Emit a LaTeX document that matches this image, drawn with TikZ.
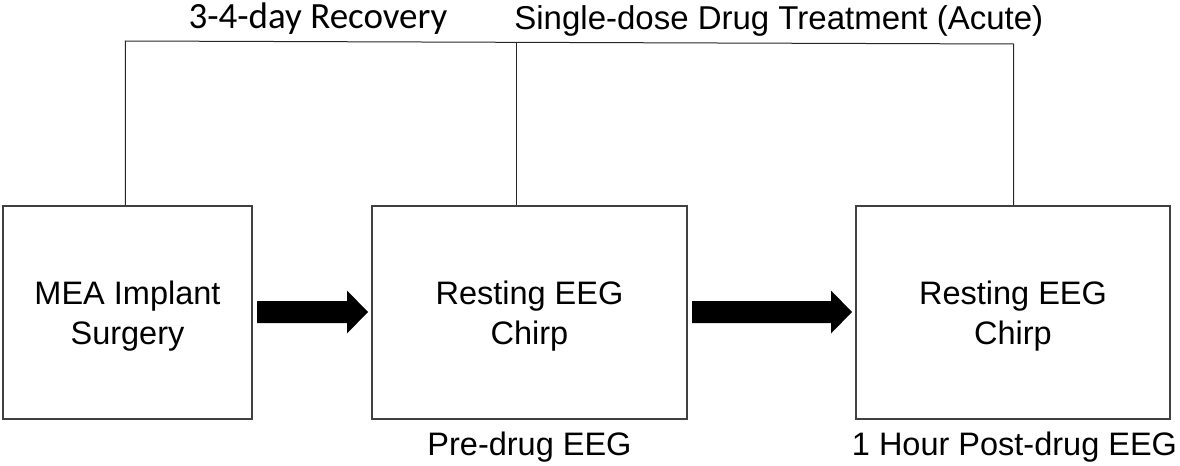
\documentclass[tikz,border=0pt]{standalone}
\usepackage{fontspec}
\setmainfont{Liberation Sans}
\newfontfamily\calfont{Carlito}
\usetikzlibrary{calc}
\definecolor{edge}{HTML}{404040}
\begin{document}
\begin{tikzpicture}[x=0.5pt,y=-0.5pt,
  stepbox/.style={draw=edge,line width=0.7pt,rectangle,minimum height=106.5pt,inner sep=0pt,
    align=center,text depth=0pt,font=\fontsize{16.25pt}{20pt}\selectfont},
  conn/.style={draw=black!85,line width=0.5pt},
  lab/.style={anchor=base,inner sep=0pt,font=\fontsize{16.25pt}{20pt}\selectfont},
  blk/.style={fill=black}]
\useasboundingbox (0,0) rectangle (1180,466);
\node[stepbox,minimum width=124.5pt] (b1) at (127.5,312.5) {MEA Implant\\Surgery};
\node[stepbox,minimum width=157.5pt] (b2) at (529.5,312.5) {Resting EEG\\Chirp};
\node[stepbox,minimum width=157pt] (b3) at (1013,312.5) {Resting EEG\\Chirp};
% block arrows
\coordinate (a1s) at (257,312);
\coordinate (a1e) at (368,312);
\coordinate (a2s) at (692,312);
\coordinate (a2e) at (852,312);
\foreach \s/\e in {a1s/a1e,a2s/a2e}{
  \fill[blk] let \p1=(\s), \p2=(\e) in
    (\x1,\y1+5.5pt) -- (\x2-10.5pt,\y1+5.5pt) -- (\x2-10.5pt,\y1+10.75pt) -- (\x2,\y2)
    -- (\x2-10.5pt,\y1-10.75pt) -- (\x2-10.5pt,\y1-5.5pt) -- (\x1,\y1-5.5pt) -- cycle;
}
% tree connectors
\coordinate (tl) at (125.3,41);
\coordinate (tm) at (516,42.3);
\coordinate (tr) at (1013.7,44);
\draw[conn] (b1.north -| tl) -- (tl) -- (tr) -- (b3.north -| tr);
\draw[conn] (tm) -- (b2.north -| tm);
% labels
\node[lab,font=\calfont\fontsize{18.5pt}{22pt}\selectfont] (t1) at (318,28) {3-4-day Recovery};
\node[lab,anchor=base west,font=\fontsize{16.5pt}{20pt}\selectfont] (t2) at (514,29) {Single-dose Drug Treatment (Acute)};
\node[lab] (l2) at (529.5,455) {Pre-drug EEG};
\node[lab] (l3) at (1014.5,455) {1 Hour Post-drug EEG};
\end{tikzpicture}
\end{document}
